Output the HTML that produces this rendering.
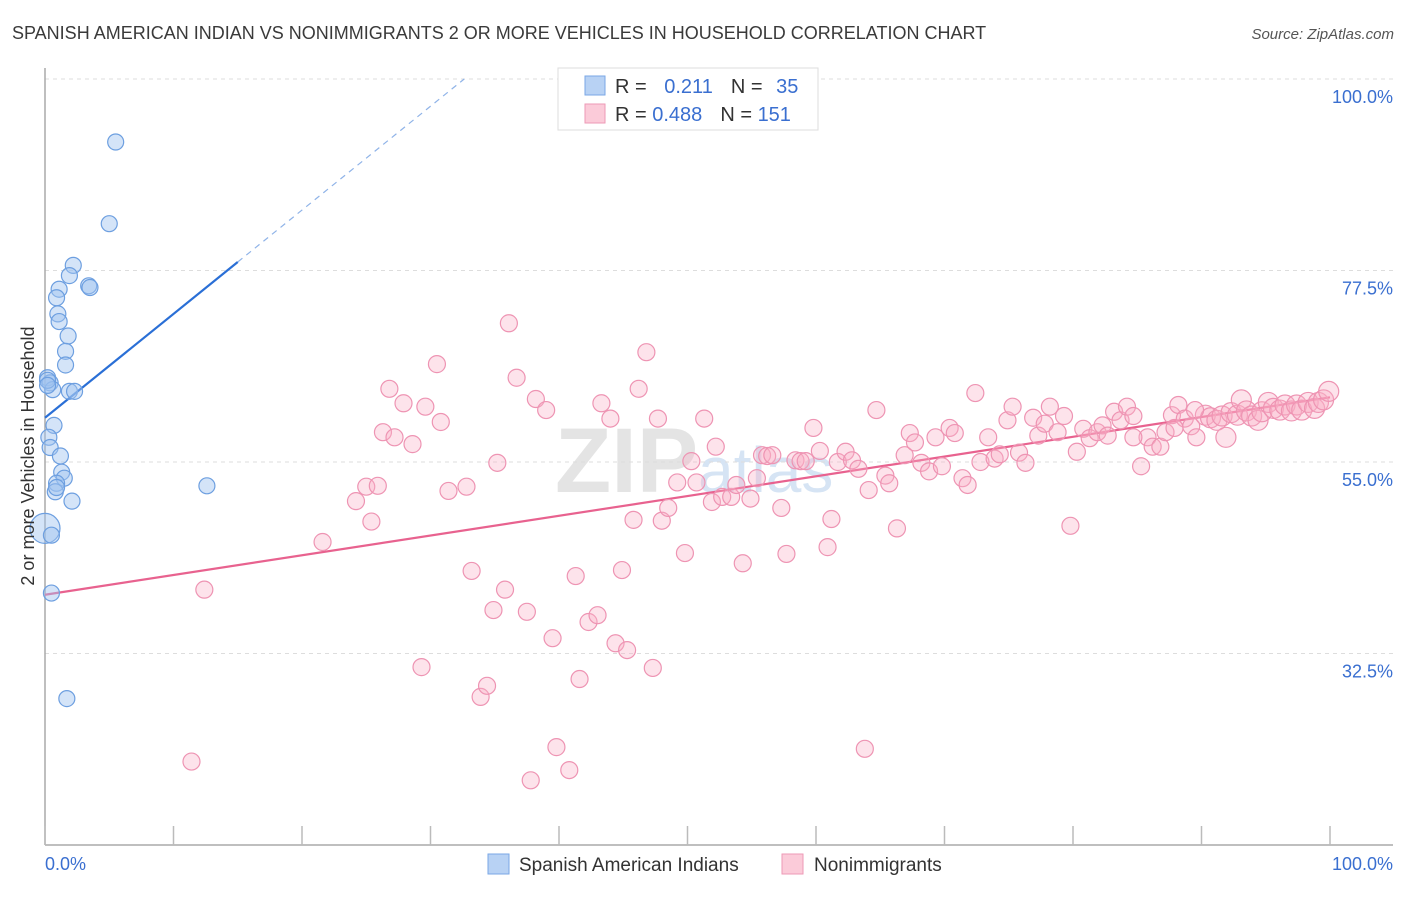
<!DOCTYPE html>
<html><head><meta charset="utf-8"><style>
body{margin:0;background:#fff;font-family:"Liberation Sans",sans-serif;}
svg text{font-family:"Liberation Sans",sans-serif;}
</style></head><body>
<svg id="chart" width="1406" height="892" viewBox="0 0 1406 892" xmlns="http://www.w3.org/2000/svg">
<text x="12" y="39" font-size="18" fill="#3a3a3a">SPANISH AMERICAN INDIAN VS NONIMMIGRANTS 2 OR MORE VEHICLES IN HOUSEHOLD CORRELATION CHART</text>
<text x="1394" y="39" font-size="15" fill="#555" text-anchor="end" font-style="italic">Source: ZipAtlas.com</text>
<text x="555" y="492" font-size="92" fill="#e4e4e4" font-family="Liberation Serif" font-weight="bold">ZIP<tspan fill="#d6e4f4" font-family="Liberation Sans" font-weight="normal" font-size="64">atlas</tspan></text>
<g id="grid"></g>
<g id="axes"></g>
<g id="lines"></g>
<g id="pinkPts"></g>
<g id="bluePts"></g>
<text transform="translate(34,456) rotate(-90)" font-size="18" fill="#333" text-anchor="middle">2 or more Vehicles in Household</text>
<g>
<rect x="558" y="68" width="260" height="62" fill="#fff" stroke="#ddd"/>
<rect x="585" y="76" width="20" height="19" fill="#b8d2f4" stroke="#7aa7e6"/>
<rect x="585" y="104" width="20" height="19" fill="#fbcbd9" stroke="#ee9ab6"/>
<text x="615" y="93" font-size="20" fill="#333">R = <tspan fill="#3a6fd0" dx="12">0.211</tspan><tspan dx="18" fill="#333">N = </tspan><tspan dx="8" fill="#3a6fd0">35</tspan></text>
<text x="615" y="121" font-size="20" fill="#333">R = <tspan fill="#3a6fd0">0.488</tspan><tspan dx="18" fill="#333">N = </tspan><tspan fill="#3a6fd0">151</tspan></text>
</g>
<g>
<rect x="488" y="854" width="21" height="20" fill="#b8d2f4" stroke="#7aa7e6"/>
<text x="519" y="871" font-size="19" fill="#333">Spanish American Indians</text>
<rect x="782" y="854" width="21" height="20" fill="#fbcbd9" stroke="#ee9ab6"/>
<text x="814" y="871" font-size="19" fill="#333">Nonimmigrants</text>
</g>
</svg>
<script>
const blueX=[5.5,5.0,2.2,1.9,1.1,3.4,3.5,0.9,1.0,1.1,1.8,1.6,1.6,0.2,0.4,0.6,1.9,2.3,0.7,0.3,0.4,1.2,1.3,1.5,0.9,0.8,2.1,12.6,0,0.5,0.5,1.7,0.2,0.2,0.9];
const blueY=[92.6,83.0,78.1,76.9,75.3,75.7,75.5,74.3,72.4,71.5,69.8,68.0,66.4,64.9,64.3,63.5,63.3,63.3,59.3,57.9,56.7,55.7,53.8,53.1,52.5,51.5,50.4,52.2,47.2,46.4,39.6,27.2,64.6,64.0,52.0];
const pinkX=[11.4,12.4,21.6,24.2,25.0,25.4,25.9,26.3,26.8,27.2,27.9,28.6,29.3,29.6,30.5,30.8,31.4,32.8,33.2,33.9,34.4,34.9,35.2,35.8,36.1,36.7,37.5,38.2,39.0,39.5,39.8,37.8,40.8,41.3,41.6,42.3,43.0,43.3,44.0,44.4,44.9,45.3,45.8,46.2,46.8,47.3,47.7,48.0,48.5,49.2,49.8,50.3,50.7,51.3,51.9,52.2,52.7,53.4,53.8,54.3,54.9,55.4,55.8,56.2,56.6,57.3,57.7,58.4,58.8,59.2,59.8,60.3,60.9,61.2,61.7,62.3,62.8,63.3,63.8,64.1,64.7,65.4,65.7,66.3,66.9,67.3,67.7,68.2,68.8,69.3,69.8,70.4,70.8,71.4,71.8,72.4,72.8,73.4,73.9,74.3,74.9,75.3,75.8,76.3,76.9,77.3,77.8,78.2,78.8,79.3,79.8,80.3,80.8,81.3,81.9,82.3,82.7,83.2,83.7,84.2,84.7,85.3,85.8,86.2,86.8,87.2,87.7,88.2,88.7,89.2,89.6,90.3,90.7,91.2,91.6,91.9,92.3,92.8,93.1,93.5,93.9,94.4,94.7,95.2,95.6,96.1,96.5,97.0,97.4,97.8,98.3,98.8,99.1,99.5,99.9,87.9,84.7,89.5];
const pinkY=[19.8,40.0,45.6,50.4,52.1,48.0,52.2,58.5,63.6,57.9,61.9,57.1,30.9,61.5,66.5,59.7,51.6,52.1,42.2,27.4,28.7,37.6,54.9,40.0,71.3,64.9,37.4,62.4,61.1,34.3,21.5,17.6,18.8,41.6,29.5,36.2,37.0,61.9,60.1,33.7,42.3,32.9,48.2,63.6,67.9,30.8,60.1,48.1,49.6,52.6,44.3,55.1,52.6,60.1,50.3,56.8,50.9,50.9,52.3,43.1,50.7,53.1,55.8,55.7,55.8,49.6,44.2,55.2,55.1,55.1,59.0,56.3,45.0,48.3,55.0,56.2,55.2,54.2,21.3,51.7,61.1,53.4,52.5,47.2,55.8,58.4,57.3,54.9,53.9,57.9,54.5,59.0,58.4,53.1,52.3,63.1,55.0,57.9,55.4,55.9,59.9,61.5,56.1,54.9,60.2,58.1,59.5,61.5,58.5,60.4,47.5,56.2,58.9,57.8,58.5,59.3,58.1,60.9,59.9,61.5,60.4,54.5,57.9,56.8,56.8,58.5,60.5,61.7,60.1,59.2,57.9,60.5,60.2,59.9,60.4,57.9,60.8,60.5,62.3,61.0,60.4,59.9,60.9,62.0,61.3,61.1,61.7,61.0,61.7,61.1,62.0,61.3,62.0,62.3,63.3,59.0,57.9,61.1];
const yTicks=[100,77.5,55,32.5];
const yTickLabels=["100.0%","77.5%","55.0%","32.5%"];
const xTicks=[0,10,20,30,40,50,60,70,80,90,100];
const blueTrend=[60.2,1.22];
const pinkTrend=[39.4,62.6];

const NS="http://www.w3.org/2000/svg";
const X0=45,X1=1330,YTOP=79,YPX=8.511;
const xs=v=>X0+(X1-X0)*v/100;
const ys=v=>YTOP+(100-v)*YPX;
function mk(tag,attrs,parent){const e=document.createElementNS(NS,tag);for(const k in attrs)e.setAttribute(k,attrs[k]);parent.appendChild(e);return e;}
const grid=document.getElementById('grid'),axes=document.getElementById('axes');
yTicks.forEach((t,i)=>{
  const l=mk('line',{x1:X0,x2:1393,y1:ys(t),y2:ys(t),stroke:'#ddd','stroke-dasharray':'4,4'},grid);
  
  
  const tx=mk('text',{x:1393,y:ys(t)+24,'font-size':18,fill:'#3a6fd0','text-anchor':'end'},grid);
  tx.textContent=yTickLabels[i];
  
  
});
const ax=mk('line',{x1:X0,x2:1393,y1:845,y2:845,stroke:'#aaa','stroke-width':1.5},axes);


const ay=mk('line',{x1:X0,x2:X0,y1:68,y2:845,stroke:'#aaa','stroke-width':1.5},axes);


xTicks.forEach(t=>{
  const l=mk('line',{x1:xs(t),x2:xs(t),y1:826,y2:845,stroke:'#bbb','stroke-width':1.5},axes);
  
  
});
const xl0=mk('text',{x:45,y:870,'font-size':18,fill:'#3a6fd0'},axes);xl0.textContent='0.0%';


const xl1=mk('text',{x:1393,y:870,'font-size':18,fill:'#3a6fd0','text-anchor':'end'},axes);xl1.textContent='100.0%';



const pg=document.getElementById('pinkPts');
pinkX.forEach((x,i)=>{
  const r=x>90?10:8.5;
  const c=mk('circle',{cx:xs(x),cy:ys(pinkY[i]),r:r,fill:'rgba(248,175,198,0.35)',stroke:'#ee94b3','stroke-width':1.2},pg);
  
  
});
const bg=document.getElementById('bluePts');
blueX.forEach((x,i)=>{
  const r=(x===0&&blueY[i]>47&&blueY[i]<48)?15:8;
  const c=mk('circle',{cx:xs(x),cy:ys(blueY[i]),r:r,fill:'rgba(160,196,240,0.45)',stroke:'#6d9fe0','stroke-width':1.2},bg);
  
  
});
const lg=document.getElementById('lines');
const pl=mk('line',{x1:xs(0),y1:ys(pinkTrend[0]),x2:xs(100),y2:ys(pinkTrend[1]),stroke:'#e8628f','stroke-width':2.2},lg);


const bEnd=15;const bTop=(100-blueTrend[0])/blueTrend[1];
const bl=mk('line',{x1:xs(0),y1:ys(blueTrend[0]),x2:xs(bEnd),y2:ys(blueTrend[0]+blueTrend[1]*bEnd),stroke:'#2a6fd6','stroke-width':2.2},lg);


const bd=mk('line',{x1:xs(bEnd),y1:ys(blueTrend[0]+blueTrend[1]*bEnd),x2:xs(bTop),y2:ys(100),stroke:'#8fb3e8','stroke-width':1.2,'stroke-dasharray':'6,5'},lg);


</script>
</body></html>
